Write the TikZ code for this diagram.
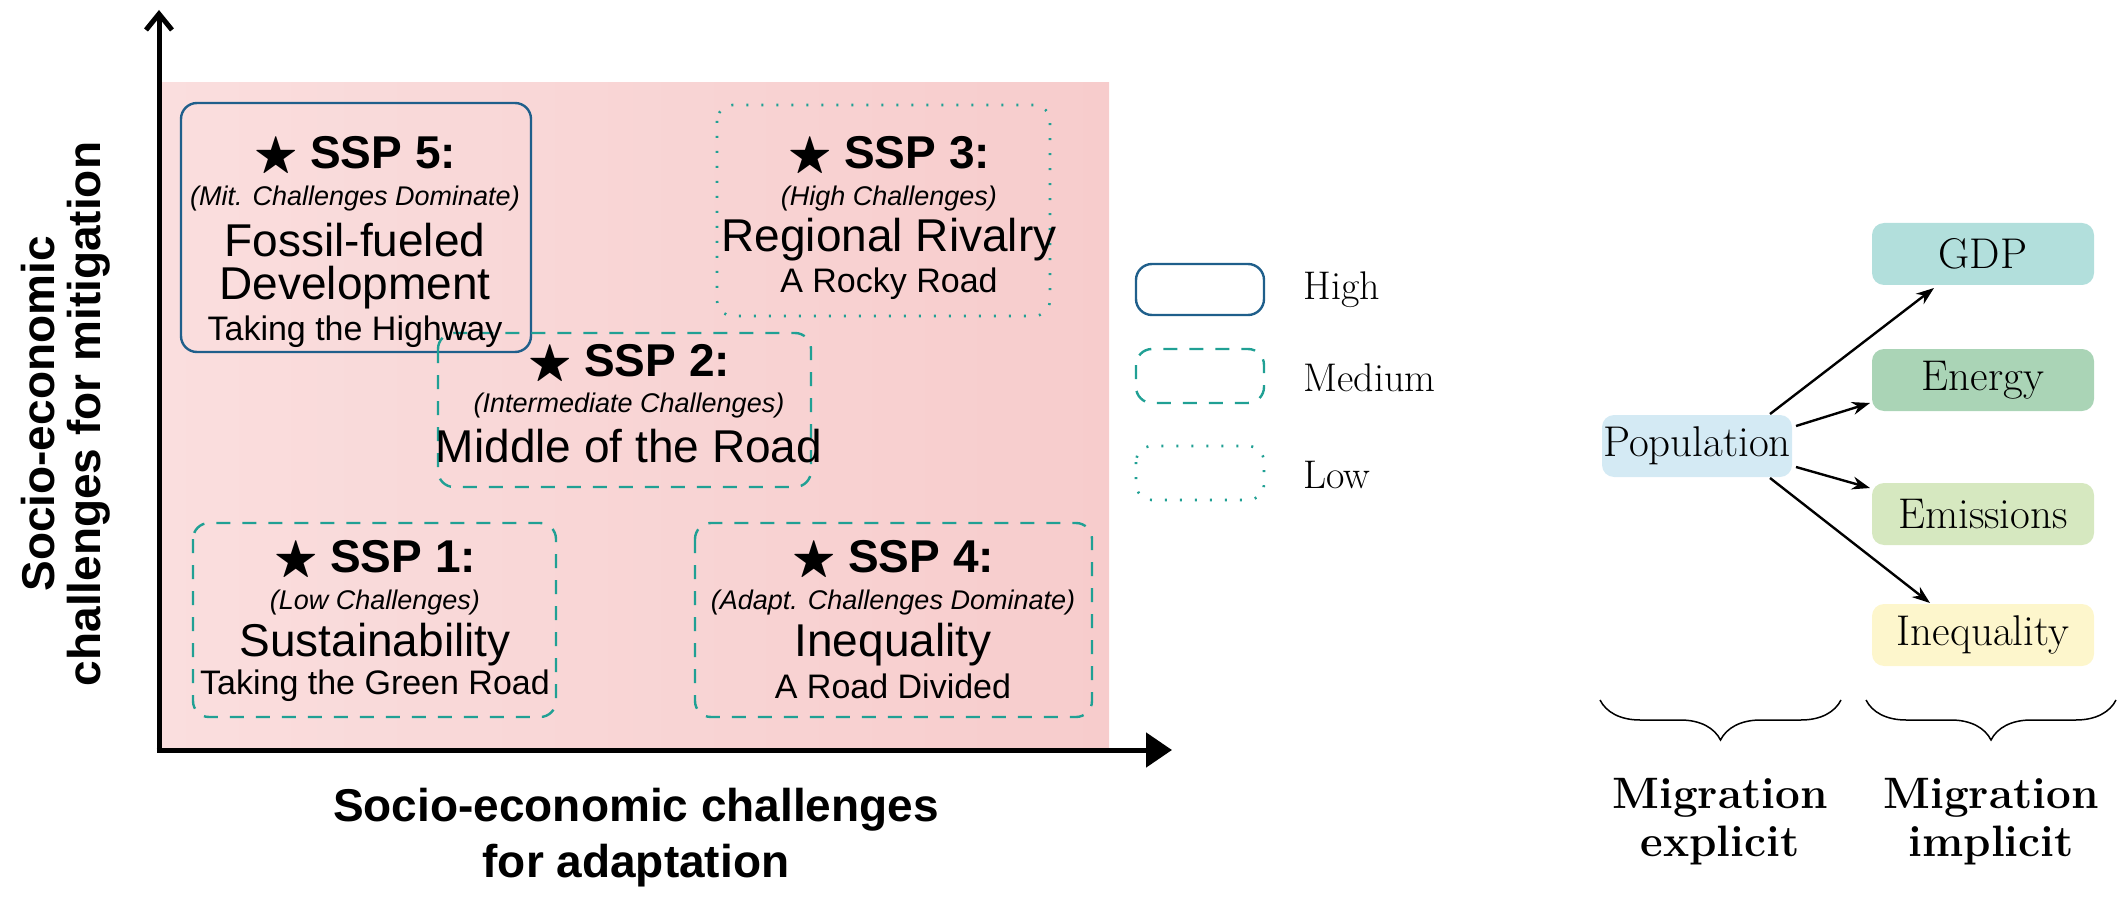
\documentclass[tikz,border=0pt]{standalone}
\usepackage{amssymb}
\usepackage{fontspec}
\newfontfamily\arialf{Liberation Sans}
\usetikzlibrary{decorations.pathreplacing,arrows.meta}
\definecolor{sspblue}{RGB}{31,95,139}
\definecolor{sspteal}{RGB}{32,160,148}
\definecolor{pinkL}{RGB}{250,222,222}
\definecolor{pinkR}{RGB}{247,204,204}
\definecolor{cgdp}{RGB}{178,223,220}
\definecolor{cen}{RGB}{170,212,182}
\definecolor{cem}{RGB}{214,232,192}
\definecolor{cin}{RGB}{253,246,204}
\definecolor{cpop}{RGB}{212,234,244}
\newcommand{\fs}[1]{\fontsize{#1}{#1}\selectfont}
\begin{document}
\begin{tikzpicture}[x=1pt,y=-1pt,
  high/.style={draw=sspblue,line width=2.4pt,rounded corners=16pt},
  med/.style={draw=sspteal,line width=2.4pt,rounded corners=16pt,dash pattern=on 14pt off 12pt},
  low/.style={draw=sspteal,line width=2.6pt,rounded corners=16pt,dash pattern=on 2pt off 13pt},
  ttl/.style={font=\arialf\bfseries\fs{46}},
  sub/.style={font=\arialf\itshape\fs{27}},
  nm/.style={font=\arialf\fs{46}},
  tag/.style={font=\arialf\fs{34}},
  ax/.style={font=\arialf\bfseries\fs{46},align=center},
  var/.style={rounded corners=12pt,minimum height=62pt,font=\fs{43},inner sep=0pt},
  arr/.style={-{Stealth[length=18pt,width=13pt]},line width=2.4pt},
  leg/.style={font=\fs{40},anchor=west}]
\useasboundingbox (0,0) rectangle (2120,901);
\shade[left color=pinkL,right color=pinkR] (159,83) rectangle (1109,750);
% axes
\coordinate (o) at (159,750);
\coordinate (yt) at (159,10);
\coordinate (xt) at (1172,750);
\draw[line width=5pt,-{Straight Barb[length=16pt,width=26pt,line width=5pt]}] (o) -- (yt);
\draw[line width=5pt,-{Triangle[length=26pt,width=34pt]}] ([xshift=-2.5pt]o) -- (xt);
% boxes
\draw[high] (181,103) rectangle (531,352);
\draw[low] (717,105) rectangle (1050,316);
\draw[med] (438,333) rectangle (811,487);
\draw[med] (193,523) rectangle (556,717);
\draw[med] (695,523) rectangle (1092,717);
% SSP5
\node[ttl] (t5) at (355,157) {$\bigstar$ SSP 5:};
\node[sub] (s5) at (355,199) {(Mit. Challenges Dominate)};
\node[nm] (n5) at (355,240) {Fossil-fueled};
\node[nm] (d5) at (355,288) {Development};
\node[tag] (g5) at (355,332) {Taking the Highway};
% SSP3
\node[ttl] (t3) at (889,157) {$\bigstar$ SSP 3:};
\node[sub] (s3) at (889,199) {(High Challenges)};
\node[nm] (n3) at (889,240) {Regional Rivalry};
\node[tag] (g3) at (889,284) {A Rocky Road};
% SSP2
\node[ttl] (t2) at (629,365) {$\bigstar$ SSP 2:};
\node[sub] (s2) at (629,406) {(Intermediate Challenges)};
\node[nm] (n2) at (629,446) {Middle of the Road};
% SSP1
\node[ttl] (t1) at (375,561) {$\bigstar$ SSP 1:};
\node[sub] (s1) at (375,603) {(Low Challenges)};
\node[nm] (n1) at (375,645) {Sustainability};
\node[tag] (g1) at (375,686) {Taking the Green Road};
% SSP4
\node[ttl] (t4) at (893,561) {$\bigstar$ SSP 4:};
\node[sub] (s4) at (893,603) {(Adapt. Challenges Dominate)};
\node[nm] (n4) at (893,645) {Inequality};
\node[tag] (g4) at (893,686) {A Road Divided};
% axis labels
\node[ax,rotate=90] (yl) at (66,414) {Socio-economic\\[0pt]challenges for mitigation};
\node[ax] (xl) at (636,838) {Socio-economic challenges\\[10pt]for adaptation};
% legend
\draw[high] (1136,264) rectangle (1264,315);
\draw[med] (1136,349) rectangle (1264,403);
\draw[low] (1136,446) rectangle (1264,500);
\node[leg] (lh) at (1300,290) {High};
\node[leg] (lm) at (1300,378) {Medium};
\node[leg] (ll) at (1300,475) {Low};
% right diagram
\node[var,fill=cpop,minimum width=190pt] (pop) at (1697,446) {Population};
\node[var,fill=cgdp,minimum width=222pt] (gdp) at (1983,254) {GDP};
\node[var,fill=cen,minimum width=222pt] (en) at (1983,380) {Energy};
\node[var,fill=cem,minimum width=222pt] (em) at (1983,514) {Emissions};
\node[var,fill=cin,minimum width=222pt] (in) at (1983,635) {Inequality};
\coordinate (p1) at (1770,414);
\coordinate (p2) at (1796,426);
\coordinate (p3) at (1796,467);
\coordinate (p4) at (1770,478);
\draw[arr] (p1) -- (1934,288);
\draw[arr] (p2) -- (1870,403);
\draw[arr] (p3) -- (1870,488);
\draw[arr] (p4) -- (1930,603);
\draw[line width=1.5pt,decorate,decoration={brace,amplitude=40pt}] (1841,700) -- (1600,700) coordinate[pos=0.5] (b1);
\draw[line width=1.5pt,decorate,decoration={brace,amplitude=40pt}] (2116,700) -- (1866,700) coordinate[pos=0.5] (b2);
\node[font=\bfseries\fs{44},align=center] (me) at (1720,822) {Migration\\[4pt]explicit};
\node[font=\bfseries\fs{44},align=center] (mi) at (1991,822) {Migration\\[4pt]implicit};
\end{tikzpicture}
\end{document}
